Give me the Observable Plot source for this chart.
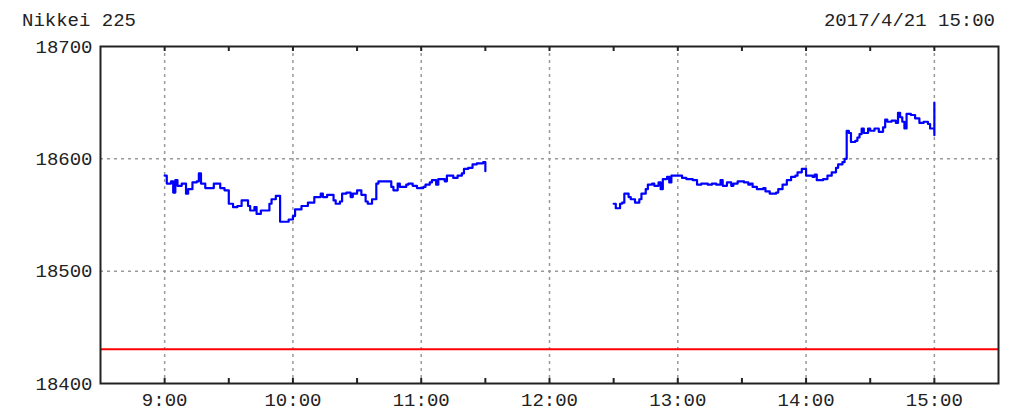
<!DOCTYPE html>
<html><head><meta charset="utf-8">
<script src="https://cdn.jsdelivr.net/npm/d3@7"></script>
<script src="https://cdn.jsdelivr.net/npm/@observablehq/plot@0.6"></script>
<style>
body{margin:0;background:#fff;}
#wrap{position:relative;width:1024px;height:416px;font-family:"Liberation Mono",monospace;color:#222;}
.t{position:absolute;top:12px;font-size:19px;line-height:19px;white-space:nowrap;}
#title{left:22px;}
#date{right:29px;}
#wrap svg{position:absolute;left:0;top:0;}
</style></head>
<body><div id="wrap"><div id="chart"></div><div class="t" id="title">Nikkei 225</div><div class="t" id="date">2017/4/21 15:00</div></div>
<script>
// minutes after 9:00
const morningMin = [0,1,3,4,5,6,8,10,11,13,15,16,17,19,23,26,28,30,32,34,36,39,40,42,43,45,49,50,52,54,58,60,61,64,67,70,73,74,76,79,80,82,83,85,87,88,90,92,94,95,97,99,100,106,107,109,110,113,114,116,118,121,122,124,125,127,128,131,132,135,137,139,140,142,144,146,149,150];
const morningVal = [18585,18578,18580,18570,18581,18576,18578,18569,18573,18579,18580,18587,18578,18574,18578,18574,18572,18560,18557,18558,18563,18558,18554,18557,18551,18554,18560,18564,18567,18544,18546,18549,18555,18558,18561,18566,18569,18566,18568,18563,18560,18562,18569,18570,18566,18569,18572,18568,18562,18560,18564,18578,18580,18575,18572,18578,18575,18577,18578,18576,18574,18575,18577,18579,18581,18577,18582,18580,18585,18583,18585,18587,18591,18592,18595,18596,18597,18589];
const afternoonMin = [210,211,213,214,215,217,218,220,222,223,225,226,228,229,231,232,233,235,236,237,242,244,247,249,251,254,256,258,260,261,263,265,266,268,271,273,274,275,277,280,281,283,286,287,289,291,293,295,296,298,300,303,304,305,308,310,312,314,315,317,318,319,320,321,323,324,325,326,327,329,330,332,334,336,337,338,340,342,343,344,345,346,347,349,351,353,355,357,358,360,360];
const afternoonVal = [18560,18556,18560,18561,18569,18566,18564,18561,18564,18569,18573,18577,18578,18576,18579,18573,18582,18584,18579,18585,18583,18582,18581,18577,18578,18577,18578,18577,18581,18576,18579,18576,18578,18580,18579,18577,18578,18575,18573,18574,18571,18569,18570,18573,18577,18581,18584,18585,18588,18591,18585,18584,18586,18581,18582,18585,18588,18592,18595,18597,18600,18625,18623,18615,18616,18619,18622,18627,18623,18627,18625,18627,18624,18628,18635,18633,18634,18632,18641,18637,18633,18627,18640,18639,18636,18632,18633,18631,18627,18650,18621];
const prevClose = [18430.49];
const hourTicks = [0,60,120,180,240,300,360];
const hourLabels = ["9:00","10:00","11:00","12:00","13:00","14:00","15:00"];
const halfTicks = [0,30,60,90,120,150,180,210,240,270,300,330,360];
const yTicks = [18400,18500,18600,18700];
const yGrid = [18500,18600];

const data = morningMin.map((m,i)=>({m, v: morningVal[i], s:"am"}))
  .concat(afternoonMin.map((m,i)=>({m, v: afternoonVal[i], s:"pm"})));

const chart = Plot.plot({
  width: 1024, height: 416,
  marginLeft: 100, marginRight: 26, marginTop: 46, marginBottom: 33,
  style: {fontFamily: '"Liberation Mono", monospace', fontSize: "19px", color: "#222", background: "transparent", overflow: "visible"},
  x: {domain: [-30, 390], label: null},
  y: {domain: [18400, 18700], label: null},
  marks: [
    Plot.ruleX(hourTicks, {x: d=>d, stroke: "#999", strokeWidth: 1.5, strokeDasharray: "3,4"}),
    Plot.ruleY(yGrid, {y: d=>d, stroke: "#999", strokeWidth: 1.5, strokeDasharray: "3,4"}),
    Plot.ruleY(prevClose, {y: d=>d, stroke: "#ff0000", strokeWidth: 2}),
    Plot.line(data, {x: "m", y: "v", z: "s", curve: "step-after", stroke: "#0000ff", strokeWidth: 2.2}),
    Plot.tickX(halfTicks, {x: d=>d, insetTop: 332, stroke: "#222", strokeWidth: 2}),
    Plot.tickX(halfTicks, {x: d=>d, insetBottom: 332, stroke: "#222", strokeWidth: 2}),
    Plot.axisX(hourTicks, {tickSize: 0, tickPadding: 9, tickFormat: d => hourLabels[hourTicks.indexOf(d)]}),
    Plot.axisY(yTicks, {tickSize: 0, tickPadding: 8, tickFormat: d => String(d)}),
    Plot.frame({stroke: "#222", strokeWidth: 2})
  ]
});
document.getElementById("chart").appendChild(chart);
</script>
</body></html>
